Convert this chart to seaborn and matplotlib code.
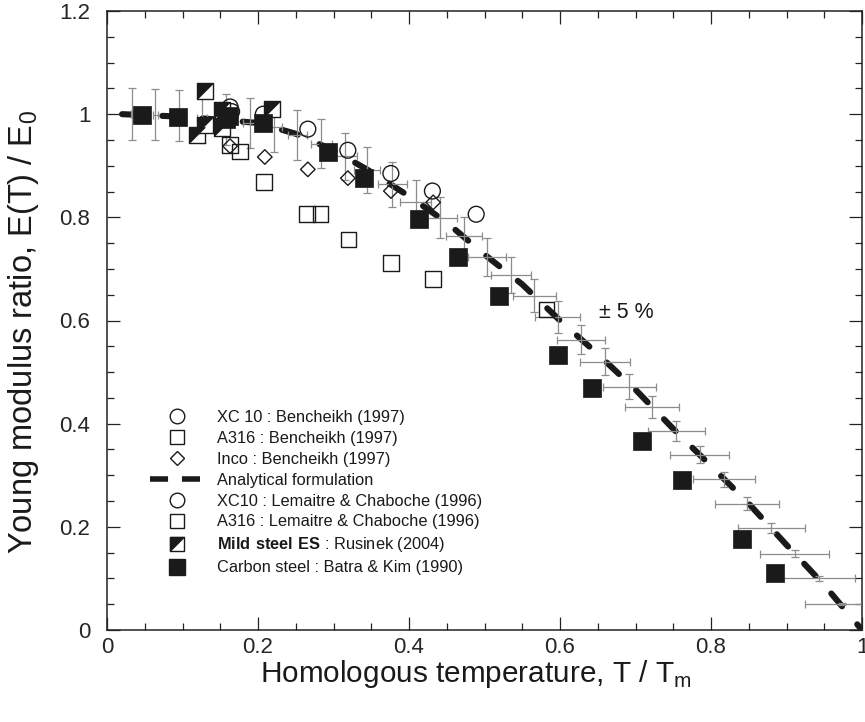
import numpy as np
import pandas as pd
import matplotlib
matplotlib.use("Agg")
import matplotlib.pyplot as plt
from matplotlib import font_manager
from matplotlib.path import Path
from matplotlib.lines import Line2D
from matplotlib.ticker import MultipleLocator
import seaborn as sns

# ---------------- data ----------------
# XC 10 steel, Bencheikh (1997)
xc10_benc_x = [0.163, 0.266, 0.319, 0.376, 0.431, 0.489]
xc10_benc_y = [1.014, 0.971, 0.930, 0.885, 0.851, 0.806]
# A316, Bencheikh (1997)
a316_benc_x = [0.163, 0.176, 0.208, 0.265, 0.283]
a316_benc_y = [0.940, 0.928, 0.868, 0.806, 0.806]
# Inco, Bencheikh (1997)
inco_benc_x = [0.163, 0.209, 0.266, 0.319, 0.376, 0.432]
inco_benc_y = [0.938, 0.917, 0.893, 0.876, 0.851, 0.829]
# XC10, Lemaitre & Chaboche (1996)
xc10_lem_x = [0.165, 0.207]
xc10_lem_y = [1.005, 1.000]
# A316, Lemaitre & Chaboche (1996)
a316_lem_x = [0.320, 0.376, 0.432, 0.582]
a316_lem_y = [0.757, 0.711, 0.680, 0.621]
# Mild steel ES, Rusinek (2004)
mild_x = [0.119, 0.130, 0.130, 0.152, 0.152, 0.219]
mild_y = [0.960, 0.979, 1.045, 1.008, 0.973, 1.010]
# Carbon steel, Batra & Kim (1990)
carbon_x = [0.046, 0.094, 0.157, 0.162, 0.207, 0.293, 0.341, 0.413, 0.465,
            0.519, 0.598, 0.643, 0.709, 0.761, 0.841, 0.885]
carbon_y = [0.998, 0.995, 0.990, 0.996, 0.983, 0.926, 0.876, 0.796, 0.724,
            0.647, 0.534, 0.470, 0.367, 0.291, 0.177, 0.110]

# Analytical formulation E(T)/E0
model_x = [0.02, 0.10, 0.20, 0.25, 0.30, 0.35, 0.40, 0.45, 0.50, 0.55,
           0.60, 0.65, 0.70, 0.75, 0.80, 0.85, 0.90, 0.95, 1.00]
model_y = [1.000, 0.995, 0.983, 0.962, 0.930, 0.888, 0.841, 0.790, 0.728,
           0.670, 0.600, 0.535, 0.466, 0.390, 0.318, 0.245, 0.165, 0.087, 0.000]

# points of the formulation carrying the +/- 5 % band
band_x = [0.033, 0.064, 0.096, 0.126, 0.158, 0.190, 0.221, 0.252, 0.284, 0.315,
          0.345, 0.378, 0.409, 0.441, 0.473, 0.503, 0.535, 0.566, 0.597, 0.628,
          0.660, 0.692, 0.722, 0.754, 0.785, 0.817, 0.848, 0.880, 0.911, 0.943,
          0.973]
band_y = [1.000, 0.999, 0.997, 0.993, 0.990, 0.983, 0.975, 0.960, 0.943, 0.918,
          0.892, 0.864, 0.830, 0.799, 0.763, 0.723, 0.688, 0.648, 0.607, 0.563,
          0.520, 0.472, 0.432, 0.385, 0.340, 0.292, 0.245, 0.198, 0.148, 0.100,
          0.050]
band_rel = 0.05

xticks = [0, 0.2, 0.4, 0.6, 0.8, 1.0]
xtick_labels = ["0", "0.2", "0.4", "0.6", "0.8", "1"]
yticks = [0, 0.2, 0.4, 0.6, 0.8, 1.0, 1.2]
ytick_labels = ["0", "0.2", "0.4", "0.6", "0.8", "1", "1.2"]

labels = [
    "XC 10 : Bencheikh (1997)",
    "A316 : Bencheikh (1997)",
    "Inco : Bencheikh (1997)",
    "Analytical formulation",
    "XC10 : Lemaitre & Chaboche (1996)",
    "A316 : Lemaitre & Chaboche (1996)",
    r"$\mathbf{Mild\ steel\ ES}$ : Rusinek (2004)",
    "Carbon steel : Batra & Kim (1990)",
]


# ---------------- fonts ----------------
def first_font(*names):
    for n in names:
        try:
            font_manager.findfont(font_manager.FontProperties(family=n),
                                  fallback_to_default=False)
            return n
        except ValueError:
            continue
    return "DejaVu Sans"


sns.set_style("ticks")
SANS = first_font("Liberation Sans Narrow", "Liberation Sans", "Arial")
plt.rcParams["font.family"] = [SANS, "DejaVu Sans"]
plt.rcParams["mathtext.fontset"] = "custom"
plt.rcParams["mathtext.rm"] = SANS
plt.rcParams["mathtext.bf"] = SANS + ":bold"
plt.rcParams["lines.scale_dashes"] = False
plt.rcParams["text.color"] = "#1a1a1a"
plt.rcParams["axes.labelcolor"] = "#1a1a1a"

# ---------------- figure ----------------
fig = plt.figure(figsize=(8.65, 7.22), dpi=100)
ax = fig.add_axes([107 / 865, 92 / 722, 755 / 865, 619 / 722])

# analytical curve
sns.lineplot(x=model_x, y=model_y, ax=ax, color="#1a1a1a", lw=4.4,
             linestyle=(0, (12, 17)), dash_capstyle="round", zorder=2,
             sort=False, estimator=None)

# +/- 5 % error bars
bx = np.array(band_x)
by = np.array(band_y)
ax.errorbar(bx, by, xerr=band_rel * bx, yerr=band_rel * by, fmt="none",
            ecolor="#8c8c8c", elinewidth=0.9, capsize=3.2, capthick=0.9,
            zorder=3)

open_kw = dict(facecolors="none", edgecolors="#1a1a1a", linewidths=1.0,
               zorder=4, legend=False)
sns.scatterplot(x=a316_benc_x, y=a316_benc_y, marker="s", s=125, ax=ax, **open_kw)
sns.scatterplot(x=a316_lem_x, y=a316_lem_y, marker="s", s=125, ax=ax, **open_kw)
sns.scatterplot(x=inco_benc_x, y=inco_benc_y, marker="D", s=55, ax=ax, **open_kw)
sns.scatterplot(x=xc10_benc_x, y=xc10_benc_y, marker="o", s=130, ax=ax, **open_kw)
sns.scatterplot(x=xc10_lem_x, y=xc10_lem_y, marker="o", s=130, ax=ax, **open_kw)

# half-filled square: white square with black upper-left triangle
tri = Path([(-1, 1), (1, 1), (-1, -1), (-1, 1)],
           [Path.MOVETO, Path.LINETO, Path.LINETO, Path.CLOSEPOLY])
sns.scatterplot(x=mild_x, y=mild_y, marker="s", s=130, ax=ax, color="white",
                edgecolor="#1a1a1a", linewidth=1.0, zorder=5, legend=False)
sns.scatterplot(x=mild_x, y=mild_y, marker=tri, s=130, ax=ax, color="#1a1a1a",
                edgecolor="#1a1a1a", linewidth=0.5, zorder=5, legend=False)

sns.scatterplot(x=carbon_x, y=carbon_y, marker="s", s=150, ax=ax,
                color="#1a1a1a", edgecolor="#1a1a1a", linewidth=0.5,
                zorder=6, legend=False)

# percentage note
ax.text(0.651, 0.616, "± 5 %", fontsize=15.5, va="center", ha="left")

# ---------------- axes styling ----------------
ax.set_xlim(0, 1)
ax.set_ylim(0, 1.2)
ax.set_xticks(xticks, xtick_labels)
ax.set_yticks(yticks, ytick_labels)
ax.xaxis.set_minor_locator(MultipleLocator(0.05))
ax.yaxis.set_minor_locator(MultipleLocator(0.05))
ax.tick_params(which="both", direction="in", top=True, right=True,
               color="#222222", width=0.9, labelsize=16)
ax.tick_params(axis="x", pad=5)
ax.tick_params(axis="y", pad=12)
ax.tick_params(which="major", length=9.5)
ax.tick_params(which="minor", length=5)
for sp in ax.spines.values():
    sp.set_linewidth(1.1)
    sp.set_color("#222222")

ax.set_xlabel("Homologous temperature, T / T$_{\\rm m}$", fontsize=21.4)
ax.set_ylabel("Young modulus ratio, E(T) / E$_{\\rm 0}$", fontsize=23.5)
ax.xaxis.set_label_coords(0.489, -0.046)
ax.yaxis.set_label_coords(-0.088, 0.481)

# ---------------- legend ----------------
def open_handle(marker, ms):
    return Line2D([], [], ls="none", marker=marker, ms=ms, mfc="none",
                  mec="#1a1a1a", mew=1.0)


half_sq = (Line2D([], [], ls="none", marker="s", ms=10.5, mfc="white",
                  mec="#1a1a1a", mew=1.0),
           Line2D([], [], ls="none", marker=tri, ms=10.5, mfc="#1a1a1a",
                  mec="#1a1a1a", mew=0.5))
handles = [
    open_handle("o", 10.5),
    open_handle("s", 10.5),
    open_handle("D", 7.2),
    Line2D([], [], color="#1a1a1a", lw=4.0, linestyle=(0, (13, 10)),
           dash_capstyle="butt"),
    open_handle("o", 10.5),
    open_handle("s", 10.5),
    half_sq,
    Line2D([], [], ls="none", marker="s", ms=11.5, mfc="#1a1a1a",
           mec="#1a1a1a"),
]
ax.legend(handles, labels, loc="upper left", bbox_to_anchor=(0.057, 0.3555),
          frameon=False, fontsize=11.8, handlelength=3.25, handletextpad=0.85,
          labelspacing=0.36, borderpad=0, borderaxespad=0)

fig.savefig("out.png", dpi=100)
